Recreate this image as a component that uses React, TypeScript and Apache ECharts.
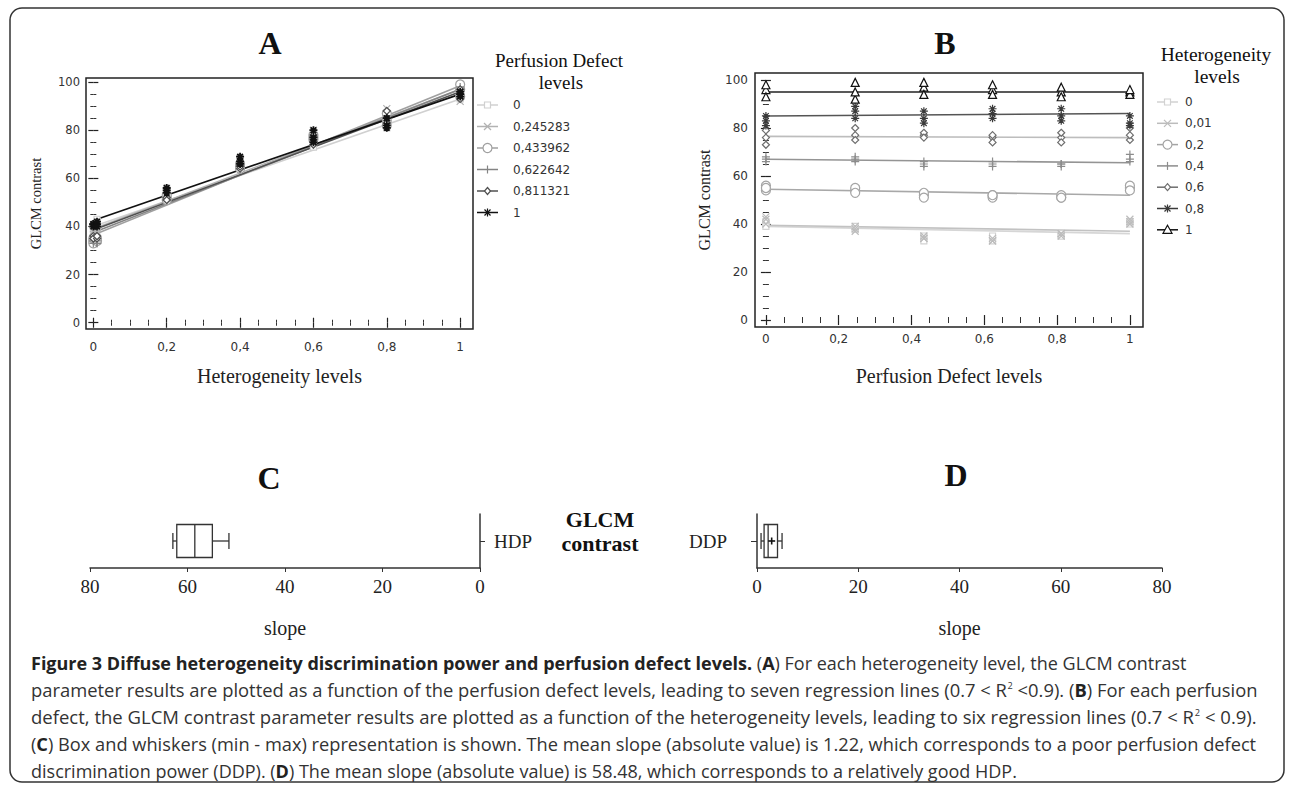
import React, { useEffect, useRef } from 'react';
import * as echarts from 'echarts';

// ---------- data ----------
const heteroLevels = [0, 0.01, 0.2, 0.4, 0.6, 0.8, 1];
const heteroLabels = ['0', '0,01', '0,2', '0,4', '0,6', '0,8', '1'];
const perfLevels = [0, 0.245283, 0.433962, 0.622642, 0.811321, 1];
const perfLabels = ['0', '0,245283', '0,433962', '0,622642', '0,811321', '1'];

// GLCM contrast: rows = heterogeneity level, columns = perfusion defect level (three replicates)
const contrastRep1 = [
  [40, 38, 34, 34, 36, 41],
  [43, 38, 34, 33, 35, 41],
  [56, 54, 52, 52, 51, 55],
  [68, 67, 65, 66, 64, 67],
  [76, 77, 77, 76, 76, 75],
  [85, 87, 84, 88, 85, 82],
  [96, 99, 97, 96, 95, 95],
];
const contrastRep2 = [
  [41, 39, 33, 33, 35, 40],
  [40, 37, 35, 34, 36, 42],
  [54, 55, 53, 51, 52, 56],
  [66, 66, 66, 64, 65, 69],
  [73, 75, 78, 77, 74, 77],
  [83, 84, 82, 86, 83, 81],
  [93, 92, 94, 94, 93, 94],
];
const contrastRep3 = [
  [39, 38, 35, 35, 35, 41],
  [42, 39, 34, 33, 36, 40],
  [55, 53, 51, 52, 51, 54],
  [67, 68, 64, 65, 65, 66],
  [79, 80, 76, 74, 78, 80],
  [81, 89, 87, 84, 88, 85],
  [98, 95, 99, 98, 97, 96],
];

// regression lines, value at level 0 and level 1
const lineAStart = [40, 39, 36.5, 37.5, 38.5, 42.5]; // per perfusion defect level
const lineAEnd = [93, 97, 98.5, 97, 96, 95];
const lineBStart = [39, 39.5, 54.5, 67, 76.5, 85, 95]; // per heterogeneity level
const lineBEnd = [36, 37, 52, 65.5, 76, 86, 95];

const levelTicks = [0, 0.2, 0.4, 0.6, 0.8, 1];
const levelMinorTicks = [0.05, 0.1, 0.15, 0.25, 0.3, 0.35, 0.45, 0.5, 0.55, 0.65, 0.7, 0.75, 0.85, 0.9, 0.95];
const contrastTicks = [0, 20, 40, 60, 80, 100];
const contrastMinorTicks = [5, 10, 15, 25, 30, 35, 45, 50, 55, 65, 70, 75, 85, 90, 95];

// slopes: min, Q1, median, Q3, max (+ mean for DDP)
const hdpBox = [51.5, 54.9, 58.5, 62.2, 63.0];
const ddpBox = [0.8, 1.4, 2.2, 4.05, 4.95];
const ddpMean = 2.9;

// ---------- styles ----------
const SERIF = '"Liberation Serif", "Times New Roman", serif';
const TICKFONT = '"DejaVu Sans", sans-serif';
const CAPFONT = '"Open Sans", sans-serif';
const CAPSIZE = 18;

const perfColors = ['#d0d0d0', '#b2b2b2', '#a0a0a0', '#848484', '#505050', '#111111'];
const perfMarkers = ['square', 'cross', 'circle', 'plus', 'diamond', 'asterisk'];
const heteroColors = ['#d2d2d2', '#bcbcbc', '#a4a4a4', '#8c8c8c', '#6e6e6e', '#3a3a3a', '#111111'];
const heteroLineColors = ['#d6d6d6', '#c2c2c2', '#a8a8a8', '#949494', '#bdbdbd', '#555555', '#222222'];
const heteroMarkers = ['square', 'cross', 'circle', 'plus', 'diamond', 'asterisk', 'triangle'];

const SYMBOLS: Record<string, { symbol: string; size: number; fill: string }> = {
  square: { symbol: 'rect', size: 6, fill: '#fff' },
  cross: { symbol: 'path://M0,0L10,10M10,0L0,10', size: 7, fill: 'transparent' },
  circle: { symbol: 'circle', size: 9, fill: '#fff' },
  plus: { symbol: 'path://M5,0L5,10M0,5L10,5', size: 8, fill: 'transparent' },
  diamond: { symbol: 'diamond', size: 7, fill: '#fff' },
  asterisk: { symbol: 'path://M5,0L5,10M0,5L10,5M1.5,1.5L8.5,8.5M8.5,1.5L1.5,8.5', size: 8, fill: 'transparent' },
  triangle: { symbol: 'triangle', size: 8, fill: '#fff' },
};

const captionLines = [
  '{b|Figure 3 Diffuse heterogeneity discrimination power and perfusion defect levels.} ({b|A}) For each heterogeneity level, the GLCM contrast',
  'parameter results are plotted as a function of the perfusion defect levels, leading to seven regression lines (0.7 < R{sup|2} <0.9). ({b|B}) For each perfusion',
  'defect, the GLCM contrast parameter results are plotted as a function of the heterogeneity levels, leading to six regression lines (0.7 < R{sup|2} < 0.9).',
  '({b|C}) Box and whiskers (min - max) representation is shown. The mean slope (absolute value) is 1.22, which corresponds to a poor perfusion defect',
  'discrimination power (DDP). ({b|D}) The mean slope (absolute value) is 58.48, which corresponds to a relatively good HDP.',
];
const captionJustified = [false, true, true, true, false];

const fmtLevel = (v: number) => (v === 0 ? '0' : v === 1 ? '1' : String(v).replace('.', ','));

function measureRich(line: string): number {
  const ctx = document.createElement('canvas').getContext('2d');
  if (!ctx) return 0;
  let w = 0;
  const re = /\{(\w+)\|([^}]*)\}/g;
  let last = 0;
  let m: RegExpExecArray | null;
  const seg = (t: string, style: string) => {
    if (!t) return;
    if (style === 'b') ctx.font = `bold ${CAPSIZE}px ${CAPFONT}`;
    else if (style === 'sup') ctx.font = `9px ${CAPFONT}`;
    else ctx.font = `${CAPSIZE}px ${CAPFONT}`;
    w += ctx.measureText(t).width;
  };
  while ((m = re.exec(line))) {
    seg(line.slice(last, m.index), '');
    seg(m[2], m[1]);
    last = m.index + m[0].length;
  }
  seg(line.slice(last), '');
  return w;
}

function makeAxes(dim: 'x' | 'y', gridIndex: number, min: number, max: number, majors: number[], minors: number[], label: any, name: any) {
  const sides = dim === 'x' ? ['bottom', 'top'] : ['left', 'right'];
  const axes: any[] = [];
  sides.forEach((pos, si) => {
    axes.push({
      type: 'value', gridIndex, position: pos, min, max,
      axisLine: { show: false }, splitLine: { show: false },
      axisTick: { show: true, inside: true, length: 5, lineStyle: { color: '#222', width: 1.2 }, customValues: majors },
      axisLabel: si === 0 ? { ...label, customValues: majors } : { show: false },
      ...(si === 0 ? name : {}),
    });
    axes.push({
      type: 'value', gridIndex, position: pos, min, max,
      axisLine: { show: false }, splitLine: { show: false },
      axisTick: { show: true, inside: true, length: 3, lineStyle: { color: '#333', width: 1 }, customValues: minors },
      axisLabel: { show: false },
    });
  });
  return axes;
}

function markerGraphic(kind: string, cx: number, cy: number, color: string): any[] {
  const ls = { stroke: color, lineWidth: 1.2 };
  switch (kind) {
    case 'square':
      return [{ type: 'rect', shape: { x: cx - 3, y: cy - 3, width: 6, height: 6 }, style: { fill: '#fff', ...ls } }];
    case 'cross':
      return [
        { type: 'line', shape: { x1: cx - 3.5, y1: cy - 3.5, x2: cx + 3.5, y2: cy + 3.5 }, style: ls },
        { type: 'line', shape: { x1: cx - 3.5, y1: cy + 3.5, x2: cx + 3.5, y2: cy - 3.5 }, style: ls },
      ];
    case 'circle':
      return [{ type: 'circle', shape: { cx, cy, r: 4.5 }, style: { fill: '#fff', ...ls } }];
    case 'plus':
      return [{ type: 'line', shape: { x1: cx, y1: cy - 4, x2: cx, y2: cy + 4 }, style: ls }];
    case 'diamond':
      return [{ type: 'polygon', shape: { points: [[cx, cy - 3.5], [cx + 3, cy], [cx, cy + 3.5], [cx - 3, cy]] }, style: { fill: '#fff', ...ls } }];
    case 'asterisk':
      return [
        { type: 'line', shape: { x1: cx, y1: cy - 4, x2: cx, y2: cy + 4 }, style: ls },
        { type: 'line', shape: { x1: cx - 3, y1: cy - 3, x2: cx + 3, y2: cy + 3 }, style: ls },
        { type: 'line', shape: { x1: cx - 3, y1: cy + 3, x2: cx + 3, y2: cy - 3 }, style: ls },
      ];
    case 'triangle':
      return [{ type: 'polygon', shape: { points: [[cx, cy - 4.5], [cx + 4.5, cy + 3.5], [cx - 4.5, cy + 3.5]] }, style: { fill: '#fff', ...ls } }];
  }
  return [];
}

function legendGraphics(labels: string[], colors: string[], markers: string[], x0: number, x1: number, tx: number, y0: number, dy: number) {
  const els: any[] = [];
  labels.forEach((lab, i) => {
    const y = y0 + i * dy;
    els.push({ type: 'line', shape: { x1: x0, y1: y, x2: x1, y2: y }, style: { stroke: colors[i], lineWidth: 1.5 } });
    els.push(...markerGraphic(markers[i], (x0 + x1) / 2, y, colors[i]));
    els.push({ type: 'text', x: tx, y, style: { text: lab, fontFamily: TICKFONT, fontSize: 12, fill: '#333', verticalAlign: 'middle', align: 'left' } });
  });
  return els;
}

function boxRender(params: any, api: any) {
  const cat = api.value(0);
  const px = (i: number) => api.coord([api.value(i), cat])[0];
  const cy = api.coord([api.value(1), cat])[1];
  const xMin = px(1), xQ1 = px(2), xMed = px(3), xQ3 = px(4), xMax = px(5);
  const h = 16.5, c = 8;
  const st = { stroke: '#333', lineWidth: 1.3, fill: 'none' };
  const children: any[] = [
    { type: 'line', shape: { x1: xMin, y1: cy, x2: xQ1, y2: cy }, style: st },
    { type: 'line', shape: { x1: xQ3, y1: cy, x2: xMax, y2: cy }, style: st },
    { type: 'line', shape: { x1: xMin, y1: cy - c, x2: xMin, y2: cy + c }, style: st },
    { type: 'line', shape: { x1: xMax, y1: cy - c, x2: xMax, y2: cy + c }, style: st },
    { type: 'rect', shape: { x: Math.min(xQ1, xQ3), y: cy - h, width: Math.abs(xQ3 - xQ1), height: 2 * h }, style: { ...st, fill: '#fff' } },
    { type: 'line', shape: { x1: xMed, y1: cy - h, x2: xMed, y2: cy + h }, style: st },
  ];
  const mean = api.value(6);
  if (mean != null && !isNaN(mean)) {
    const xm = px(6);
    children.push({ type: 'line', shape: { x1: xm - 3.5, y1: cy, x2: xm + 3.5, y2: cy }, style: { stroke: '#111', lineWidth: 1.6 } });
    children.push({ type: 'line', shape: { x1: xm, y1: cy - 3.5, x2: xm, y2: cy + 3.5 }, style: { stroke: '#111', lineWidth: 1.6 } });
  }
  return { type: 'group', children };
}

const reps = [contrastRep1, contrastRep2, contrastRep3];

function buildOption() {
  const tickLabel = (margin: number, size: number) => ({ show: true, margin, fontFamily: TICKFONT, fontSize: size, color: '#333', formatter: fmtLevel });
  const yTickLabel = (margin: number, size: number) => ({ show: true, margin, fontFamily: TICKFONT, fontSize: size, color: '#333' });

  const xAxis: any[] = [
    ...makeAxes('x', 0, -0.02, 1.035, levelTicks, levelMinorTicks, tickLabel(12, 12),
      { name: 'Heterogeneity levels', nameLocation: 'middle', nameGap: 37, nameTextStyle: { fontFamily: SERIF, fontSize: 20, color: '#222' } }),
    ...makeAxes('x', 1, -0.03, 1.036, levelTicks, levelMinorTicks, tickLabel(6, 12),
      { name: 'Perfusion Defect levels', nameLocation: 'middle', nameGap: 39, nameTextStyle: { fontFamily: SERIF, fontSize: 20, color: '#222' } }),
    {
      type: 'value', gridIndex: 2, inverse: true, min: 0, max: 80, interval: 20,
      axisLine: { show: true, lineStyle: { color: '#333', width: 1.5 } },
      axisTick: { show: true, length: 4, lineStyle: { color: '#333' } },
      axisLabel: { margin: 9, fontFamily: SERIF, fontSize: 19, color: '#222' },
      splitLine: { show: false },
      name: 'slope', nameLocation: 'middle', nameGap: 50, nameTextStyle: { fontFamily: SERIF, fontSize: 20, color: '#222' },
    },
    {
      type: 'value', gridIndex: 3, min: 0, max: 80, interval: 20,
      axisLine: { show: true, lineStyle: { color: '#333', width: 1.5 } },
      axisTick: { show: true, length: 4, lineStyle: { color: '#333' } },
      axisLabel: { margin: 9, fontFamily: SERIF, fontSize: 19, color: '#222' },
      splitLine: { show: false },
      name: 'slope', nameLocation: 'middle', nameGap: 50, nameTextStyle: { fontFamily: SERIF, fontSize: 20, color: '#222' },
    },
  ];
  const yAxis: any[] = [
    ...makeAxes('y', 0, -2.6, 101.7, contrastTicks, contrastMinorTicks, yTickLabel(6, 11.5),
      { name: 'GLCM contrast', nameLocation: 'middle', nameGap: 43, nameTextStyle: { fontFamily: SERIF, fontSize: 14.5, color: '#222' } }),
    ...makeAxes('y', 1, -2.9, 102.9, contrastTicks, contrastMinorTicks, yTickLabel(7, 12),
      { name: 'GLCM contrast', nameLocation: 'middle', nameGap: 43, nameTextStyle: { fontFamily: SERIF, fontSize: 16, color: '#222' } }),
    {
      type: 'category', gridIndex: 2, position: 'right', data: ['HDP'],
      axisLine: { show: true, lineStyle: { color: '#333', width: 1.5 } },
      axisTick: { show: true, length: 5, alignWithLabel: true, lineStyle: { color: '#333' } },
      axisLabel: { margin: 14, fontFamily: SERIF, fontSize: 19, color: '#222' },
    },
    {
      type: 'category', gridIndex: 3, position: 'left', data: ['DDP'],
      axisLine: { show: true, lineStyle: { color: '#333', width: 1.5 } },
      axisTick: { show: true, length: 6, alignWithLabel: true, lineStyle: { color: '#333' } },
      axisLabel: { margin: 30, fontFamily: SERIF, fontSize: 19, color: '#222' },
    },
  ];

  const series: any[] = [];
  // Panel A: one group per perfusion defect level, x = heterogeneity level
  perfLevels.forEach((_, d) => {
    series.push({
      type: 'line', xAxisIndex: 0, yAxisIndex: 0, z: 2, symbol: 'none',
      lineStyle: { color: perfColors[d], width: 1.6 },
      data: [[heteroLevels[0], lineAStart[d]], [heteroLevels[heteroLevels.length - 1], lineAEnd[d]]],
    });
    const sym = SYMBOLS[perfMarkers[d]];
    const pts: number[][] = [];
    heteroLevels.forEach((h, hi) => reps.forEach((rep) => pts.push([h, rep[hi][d]])));
    series.push({
      type: 'scatter', xAxisIndex: 0, yAxisIndex: 0, z: 3, symbol: sym.symbol, symbolSize: sym.size,
      itemStyle: { color: sym.fill, borderColor: perfColors[d], borderWidth: d === 5 ? 1.8 : 1.2, opacity: 1 },
      data: pts,
    });
  });
  // Panel B: one group per heterogeneity level, x = perfusion defect level
  heteroLevels.forEach((_, hi) => {
    series.push({
      type: 'line', xAxisIndex: 4, yAxisIndex: 4, z: 2, symbol: 'none',
      lineStyle: { color: heteroLineColors[hi], width: 1.6 },
      data: [[perfLevels[0], lineBStart[hi]], [perfLevels[perfLevels.length - 1], lineBEnd[hi]]],
    });
    const sym = SYMBOLS[heteroMarkers[hi]];
    const pts: number[][] = [];
    perfLevels.forEach((p, di) => reps.forEach((rep) => pts.push([p, rep[hi][di]])));
    series.push({
      type: 'scatter', xAxisIndex: 4, yAxisIndex: 4, z: 3, symbol: sym.symbol, symbolSize: sym.size,
      itemStyle: { color: sym.fill, borderColor: heteroColors[hi], borderWidth: 1.2, opacity: 1 },
      data: pts,
    });
  });
  // Panel C / D box plots
  series.push({
    type: 'custom', xAxisIndex: 8, yAxisIndex: 8, renderItem: boxRender,
    encode: { x: [1, 2, 3, 4, 5], y: 0 }, data: [[0, ...hdpBox]],
  });
  series.push({
    type: 'custom', xAxisIndex: 9, yAxisIndex: 9, renderItem: boxRender,
    encode: { x: [1, 2, 3, 4, 5, 6], y: 0 }, data: [[0, ...ddpBox, ddpMean]],
  });

  const titleStyle = (t: string, x: number, y: number) => ({
    type: 'text', x, y, style: { text: t, fontFamily: SERIF, fontSize: 32, fontWeight: 'bold', fill: '#111', align: 'center', verticalAlign: 'middle' },
  });
  const serifText = (t: string, x: number, y: number, size: number, bold = false, align = 'center') => ({
    type: 'text', x, y, style: { text: t, fontFamily: SERIF, fontSize: size, fontWeight: bold ? 'bold' : 'normal', fill: '#111', align, verticalAlign: 'middle' },
  });

  const capRich = {
    b: { fontFamily: CAPFONT, fontSize: CAPSIZE, fontWeight: 'bold', fill: '#222' },
    sup: { fontFamily: CAPFONT, fontSize: 9, fill: '#333', verticalAlign: 'top' },
  };
  const capLeft = 31;
  const capRight = 1257;

  const graphic: any[] = [
    { type: 'rect', shape: { x: 10, y: 8, width: 1274, height: 774, r: 12 }, style: { fill: 'none', stroke: '#333', lineWidth: 1.5 }, z: 0 },
    titleStyle('A', 270, 43),
    titleStyle('B', 945, 43),
    titleStyle('C', 269, 478),
    titleStyle('D', 956, 475),
    serifText('Perfusion Defect', 559, 60, 19),
    serifText('levels', 561, 82, 19),
    serifText('Heterogeneity', 1216, 54, 19.5),
    serifText('levels', 1217, 76, 19.5),
    serifText('GLCM', 600, 519, 22, true),
    serifText('contrast', 600, 543, 22, true),
    ...legendGraphics(perfLabels, perfColors, perfMarkers, 477, 498, 513, 105, 21.5),
    ...legendGraphics(heteroLabels, heteroColors, heteroMarkers, 1157, 1178, 1185, 102, 21.3),
    ...captionLines.map((t, i) => {
      let sx = 1;
      if (captionJustified[i]) {
        const w = measureRich(t);
        if (w > 0) sx = (capRight - capLeft) / w;
      }
      return {
        type: 'text', x: capLeft, y: 663 + i * 27, scaleX: sx,
        style: { text: t, fontFamily: CAPFONT, fontSize: CAPSIZE, fill: '#333', align: 'left', verticalAlign: 'middle', rich: capRich },
      };
    }),
  ];

  return {
    animation: false,
    backgroundColor: '#ffffff',
    grid: [
      { left: 86, top: 78, width: 387, height: 251, show: true, borderColor: '#222', borderWidth: 1.5, backgroundColor: 'transparent', outerBoundsMode: 'none' },
      { left: 755, top: 73, width: 388, height: 254, show: true, borderColor: '#222', borderWidth: 1.5, backgroundColor: 'transparent', outerBoundsMode: 'none' },
      { left: 90, top: 514, width: 390, height: 54, outerBoundsMode: 'none' },
      { left: 757, top: 514, width: 405, height: 54, outerBoundsMode: 'none' },
    ],
    xAxis,
    yAxis,
    series,
    graphic,
  };
}

export default function App() {
  const ref = useRef<HTMLDivElement>(null);
  useEffect(() => {
    document.body.style.margin = '0';
    if (!ref.current) return;
    const chart = echarts.init(ref.current, undefined, { renderer: 'svg' });
    chart.setOption(buildOption() as any);
    return () => chart.dispose();
  }, []);
  return <div ref={ref} style={{ width: 1290, height: 788, background: '#fff' }} />;
}
